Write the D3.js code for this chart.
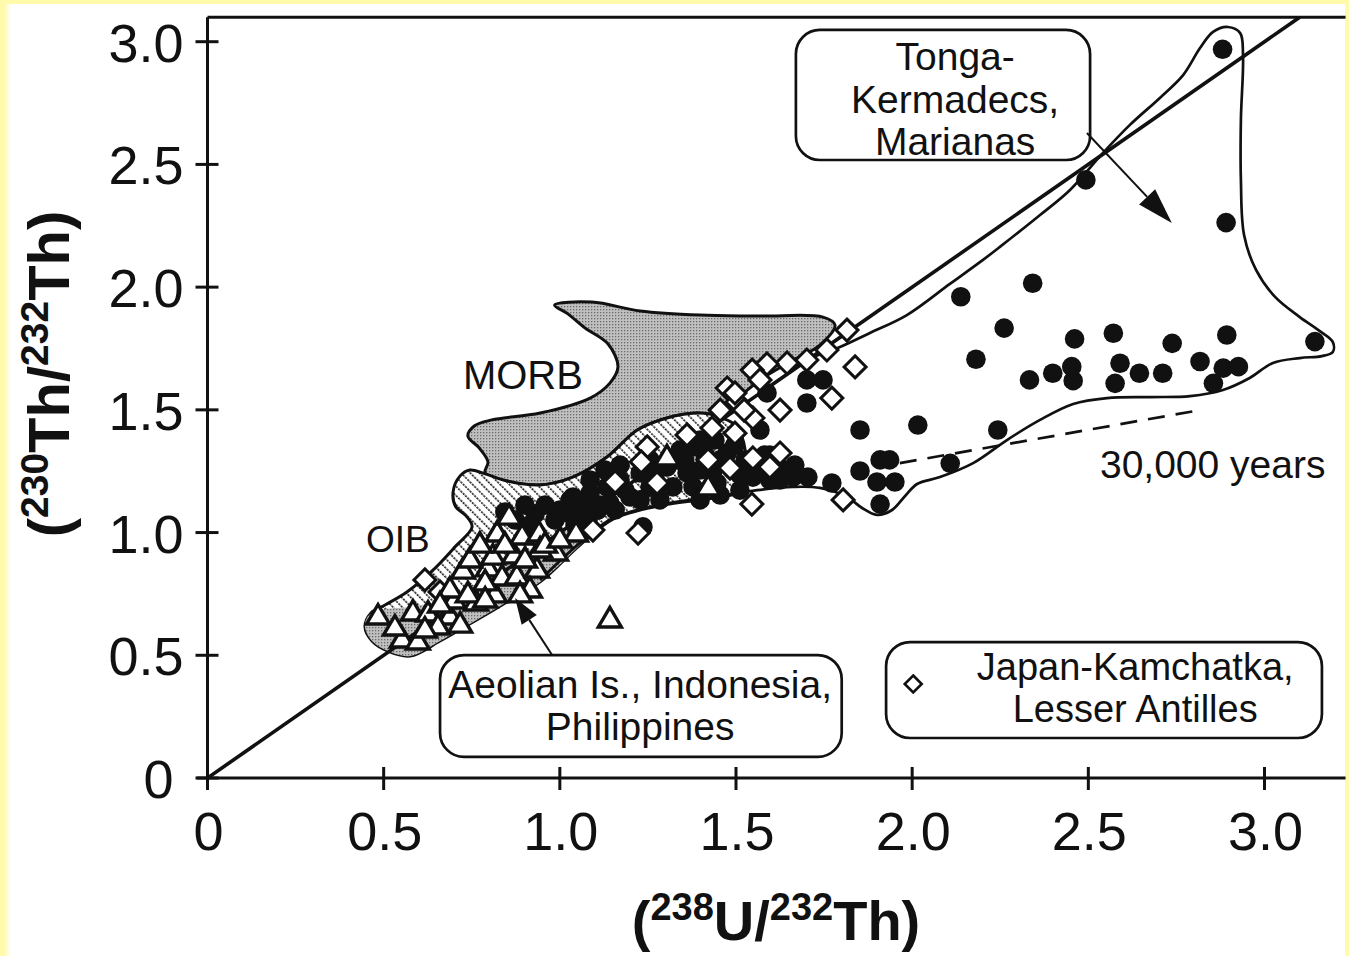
<!DOCTYPE html>
<html>
<head>
<meta charset="utf-8">
<script src="https://cdn.jsdelivr.net/npm/d3@7"></script>
<style>
  html, body { margin: 0; padding: 0; background: #fffbab; }
  svg { display: block; }
  text { font-family: "Liberation Sans", Arial, Helvetica, sans-serif; fill: #111; }
</style>
</head>
<body>
<svg id="chart" width="1349" height="956"></svg>
<script>
// ---- Data: activity ratios (238U/232Th, 230Th/232Th) ----

// Tonga-Kermadecs, Marianas (filled circles)
const tongaMarianas = [
  [2.138,1.961],[2.342,2.016],[2.261,1.833],[2.181,1.706],[2.461,1.789],[2.571,1.812],
  [2.738,1.771],[2.893,1.805],[3.143,1.778],[2.333,1.622],[2.399,1.649],[2.453,1.676],
  [2.457,1.619],[2.590,1.690],[2.576,1.608],[2.645,1.649],[2.711,1.649],[2.817,1.697],
  [2.883,1.670],[2.926,1.676],[2.855,1.608],[1.852,1.418],[2.016,1.438],[2.243,1.418],
  [2.108,1.282],[1.909,1.296],[1.936,1.296],[1.852,1.251],[1.900,1.206],[1.951,1.206],
  [1.909,1.116],[2.881,2.969],[2.493,2.437],[2.891,2.263],
  [0.844,1.084],[0.930,1.076],[0.986,1.051],[1.034,1.072],[1.029,1.133],[1.066,1.100],
  [1.086,1.161],[1.134,1.186],[1.142,1.120],[1.171,1.214],[1.199,1.145],[1.228,1.243],
  [1.256,1.186],[1.236,1.023],[1.304,1.267],[1.321,1.186],[1.341,1.336],[1.361,1.243],
  [1.378,1.349],[1.378,1.186],[1.435,1.255],[1.446,1.202],[1.475,1.324],[1.491,1.255],
  [1.548,1.226],[1.568,1.255],[1.568,1.418],[1.588,1.569],[1.625,1.214],[1.662,1.226],
  [1.704,1.226],[1.701,1.622],[1.747,1.622],[1.701,1.528],[1.772,1.202],[1.037,1.145],
  [1.108,1.092],[1.284,1.133],[1.511,1.173],[1.596,1.316],
  [1.000,1.092],[1.043,1.031],[1.080,1.051],[1.114,1.112],[1.157,1.092],[1.185,1.173],
  [1.228,1.133],[1.270,1.235],[1.284,1.182],[1.327,1.296],[1.355,1.288],[1.398,1.255],
  [1.412,1.316],[1.455,1.296],[1.511,1.235],[1.526,1.296],[1.596,1.214],[1.639,1.255],
  [1.440,1.377],[1.398,1.377],[1.497,1.357],[1.582,1.316],[1.667,1.275],[0.958,1.112],
  [0.901,1.112],[0.873,1.051],[0.915,1.031],[1.086,1.214],[1.128,1.255],[1.171,1.275],
  [1.256,1.296],[1.398,1.133],[1.455,1.153]
];

// Japan-Kamchatka, Lesser Antilles (open diamonds)
const japanAntilles = [
  [1.815,1.825],[1.758,1.744],[1.701,1.703],[1.645,1.691],[1.588,1.687],[1.546,1.662],
  [1.475,1.589],[1.838,1.675],[1.772,1.548],[1.625,1.499],[1.548,1.467],[1.455,1.499],
  [1.432,1.426],[1.497,1.405],[1.361,1.398],[1.248,1.349],[1.231,1.288],[1.421,1.296],
  [1.625,1.324],[1.548,1.304],[1.157,1.206],[1.545,1.116],[1.804,1.133],[1.276,1.202],
  [1.094,1.010],[1.222,0.998],[1.568,1.622],[1.503,1.532],[1.483,1.263],[1.596,1.267],
  [0.617,0.807],[0.660,0.758],[1.497,1.569],[1.523,1.499]
];

// Aeolian Is., Indonesia, Philippines (open triangles)
const aeolianIndonesia = [
  [0.484,0.656],[0.552,0.562],[0.597,0.554],[0.583,0.672],[0.626,0.668],[0.688,0.656],
  [0.700,0.721],[0.762,0.713],[0.816,0.746],[0.725,0.843],[0.796,0.852],[0.836,0.815],
  [0.810,0.900],[0.870,0.905],[0.893,0.982],[0.822,0.994],[0.941,0.994],[0.989,0.917],
  [0.856,1.063],[1.046,0.994],[0.788,0.795],[0.878,0.819],[0.935,0.847],[0.654,0.615],
  [0.688,0.766],[1.142,0.644],[1.304,1.304],[1.421,1.182],[0.944,0.929],
  [0.745,0.888],[0.773,0.949],[0.844,0.949],[0.901,0.888],[0.958,0.949],[1.000,0.970],
  [0.915,0.766],[0.739,0.746],[0.660,0.705],[0.717,0.623],[0.617,0.603],[0.532,0.611],
  [0.887,0.746],[0.788,0.725]
];

// MORB field outline
const morbField = [
  [0.985,1.927],[1.091,1.939],[1.228,1.903],[1.398,1.886],[1.568,1.882],[1.747,1.878],
  [1.781,1.846],[1.738,1.764],[1.653,1.695],[1.568,1.622],[1.497,1.540],[1.426,1.483],
  [1.389,1.487],[1.304,1.467],[1.220,1.418],[1.134,1.308],[1.037,1.226],[0.944,1.194],
  [0.850,1.210],[0.788,1.243],[0.796,1.288],[0.771,1.345],[0.739,1.393],[0.757,1.434],
  [0.807,1.459],[0.944,1.487],[1.086,1.548],[1.142,1.609],[1.165,1.675],[1.137,1.768],
  [1.071,1.834],[1.023,1.891]
];

// OIB field outline
const oibField = [
  [1.460,1.467],[1.426,1.483],[1.389,1.487],[1.304,1.467],[1.220,1.418],[1.134,1.308],
  [1.037,1.226],[0.944,1.194],[0.850,1.210],[0.788,1.239],[0.745,1.255],[0.717,1.231],
  [0.697,1.165],[0.705,1.104],[0.734,1.068],[0.751,1.023],[0.702,0.941],[0.640,0.847],
  [0.566,0.758],[0.504,0.705],[0.464,0.672],[0.447,0.615],[0.467,0.558],[0.512,0.517],
  [0.575,0.497],[0.660,0.558],[0.754,0.636],[0.850,0.717],[0.944,0.799],[1.057,0.949],
  [1.151,1.055],[1.293,1.112],[1.435,1.141],[1.511,1.173],[1.526,1.336],[1.497,1.438]
];

// Stippled low-ratio part of the OIB field
const oibLow = [
  [0.447,0.615],[0.467,0.558],[0.512,0.517],[0.575,0.497],[0.660,0.558],[0.754,0.636],
  [0.850,0.717],[0.944,0.799],[1.057,0.949],[1.114,1.031],[1.029,1.010],[0.915,0.929],
  [0.802,0.827],[0.688,0.733],[0.575,0.697],[0.490,0.685],[0.456,0.660]
];

// Envelope around the arc data
const arcEnvelope = [
  [1.724,1.719],[1.795,1.756],[1.880,1.813],[1.985,1.886],[2.107,2.013],[2.201,2.111],
  [2.249,2.164],[2.363,2.294],[2.448,2.396],[2.541,2.546],[2.618,2.661],[2.703,2.771],
  [2.769,2.864],[2.817,2.974],[2.854,3.040],[2.896,3.060],[2.931,3.035],[2.939,2.946],
  [2.933,2.681],[2.933,2.437],[2.942,2.212],[2.976,2.070],[3.030,1.960],[3.100,1.878],
  [3.157,1.821],[3.194,1.776],[3.194,1.736],[3.163,1.719],[3.100,1.711],[3.024,1.691],
  [2.958,1.630],[2.882,1.581],[2.789,1.556],[2.675,1.552],[2.553,1.548],[2.457,1.524],
  [2.363,1.459],[2.269,1.377],[2.173,1.283],[2.079,1.226],[2.014,1.198],[1.980,1.149],
  [1.943,1.092],[1.900,1.072],[1.858,1.100],[1.815,1.145],[1.738,1.182],[1.662,1.186],
  [1.560,1.173],[1.435,1.145],[1.293,1.116],[1.151,1.059],[1.057,0.958],[0.944,0.807]
];

// 30,000-year reference line
const isochron30ka = [[1.965,1.283],[2.817,1.499]];

// Equiline
const equiline = [[0,0],[3.1,3.1]];

// Axis ticks
const xTicks = [0, 0.5, 1.0, 1.5, 2.0, 2.5, 3.0];
const xTickLabels = ["0", "0.5", "1.0", "1.5", "2.0", "2.5", "3.0"];
const yTicks = [0, 0.5, 1.0, 1.5, 2.0, 2.5, 3.0];
const yTickLabels = ["0", "0.5", "1.0", "1.5", "2.0", "2.5", "3.0"];

// ---- Scales ----
const x = d3.scaleLinear().domain([0, 3]).range([207.5, 1264.5]);
const y = d3.scaleLinear().domain([0, 3]).range([778, 41.7]);
const xMax = 3.23, yMax = 3.1;

const svg = d3.select("#chart");
const defs = svg.append("defs");

// page: pale yellow margin around a white sheet
const fade = defs.append("linearGradient").attr("id", "edgeFade");
fade.append("stop").attr("offset", "0").attr("stop-color", "#fffbab");
fade.append("stop").attr("offset", "1").attr("stop-color", "#ffffff");
svg.append("rect").attr("width", 1349).attr("height", 956).attr("fill", "#fffbab");
svg.append("rect").attr("x", 5).attr("y", 4).attr("width", 1340).attr("height", 952).attr("fill", "#fff");
svg.append("rect").attr("x", 4).attr("y", 4).attr("width", 7).attr("height", 952).attr("fill", "url(#edgeFade)");

// fill patterns
const stip = defs.append("pattern").attr("id", "stipple")
  .attr("patternUnits", "userSpaceOnUse").attr("width", 3).attr("height", 3);
stip.append("rect").attr("width", 3).attr("height", 3).attr("fill", "#c0c0c0");
stip.append("rect").attr("width", 1.3).attr("height", 1.3).attr("fill", "#6a6a6a");

const hatch = defs.append("pattern").attr("id", "hatch")
  .attr("patternUnits", "userSpaceOnUse").attr("width", 6.5).attr("height", 6.5)
  .attr("patternTransform", "rotate(45)");
hatch.append("rect").attr("width", 6.5).attr("height", 6.5).attr("fill", "#fff");
hatch.append("line").attr("x1", 0).attr("y1", 2).attr("x2", 6.5).attr("y2", 2)
  .attr("stroke", "#222").attr("stroke-width", 1.8).attr("stroke-dasharray", "2.2 1.05");

const clip = defs.append("clipPath").attr("id", "plotClip");
clip.append("rect").attr("x", x(0)).attr("y", y(yMax))
  .attr("width", x(xMax) - x(0)).attr("height", y(0) - y(yMax));

const closedCurve = d3.line().x(d => x(d[0])).y(d => y(d[1])).curve(d3.curveCatmullRomClosed.alpha(0.5));
const openCurve = d3.line().x(d => x(d[0])).y(d => y(d[1])).curve(d3.curveCatmullRom.alpha(0.5));
const straight = d3.line().x(d => x(d[0])).y(d => y(d[1]));

const plot = svg.append("g").attr("clip-path", "url(#plotClip)");

// fields
plot.append("path").attr("d", closedCurve(morbField))
  .attr("fill", "url(#stipple)").attr("stroke", "#111").attr("stroke-width", 3);
plot.append("path").attr("d", closedCurve(oibField))
  .attr("fill", "url(#hatch)").attr("stroke", "#111").attr("stroke-width", 3);
plot.append("path").attr("d", closedCurve(oibLow))
  .attr("fill", "url(#stipple)").attr("stroke", "none");

// envelope, equiline, 30 ka line
plot.append("path").attr("d", openCurve(arcEnvelope))
  .attr("fill", "none").attr("stroke", "#111").attr("stroke-width", 2.7);
plot.append("path").attr("d", straight(equiline))
  .attr("fill", "none").attr("stroke", "#111").attr("stroke-width", 3.6);
plot.append("path").attr("d", straight(isochron30ka))
  .attr("fill", "none").attr("stroke", "#111").attr("stroke-width", 2.7)
  .attr("stroke-dasharray", "17 11");

// data symbols
const diamondPath = "M0,-11L11,0L0,11L-11,0Z";
const trianglePath = "M0,-12.5L11.5,7L-11.5,7Z";

plot.append("g").selectAll("circle").data(tongaMarianas).join("circle")
  .attr("cx", d => x(d[0])).attr("cy", d => y(d[1])).attr("r", 9.8).attr("fill", "#111");
plot.append("g").selectAll("path").data(japanAntilles).join("path")
  .attr("d", diamondPath).attr("transform", d => `translate(${x(d[0])},${y(d[1])})`)
  .attr("fill", "#fff").attr("stroke", "#111").attr("stroke-width", 3);
plot.append("g").selectAll("path").data(aeolianIndonesia).join("path")
  .attr("d", trianglePath).attr("transform", d => `translate(${x(d[0])},${y(d[1])})`)
  .attr("fill", "#fff").attr("stroke", "#111").attr("stroke-width", 3.4);

// ---- Axes and frame ----
const axes = svg.append("g").attr("stroke", "#111").attr("stroke-width", 3);
axes.append("line").attr("x1", x(-0.03)).attr("x2", x(xMax)).attr("y1", y(0)).attr("y2", y(0));
axes.append("line").attr("x1", x(0)).attr("x2", x(0)).attr("y1", y(yMax)).attr("y2", y(0) + 12);
axes.append("line").attr("x1", x(0)).attr("x2", x(xMax)).attr("y1", y(yMax)).attr("y2", y(yMax));
axes.selectAll(".xt").data(xTicks).join("line").attr("class", "xt")
  .attr("x1", d => x(d)).attr("x2", d => x(d)).attr("y1", y(0) - 11).attr("y2", y(0) + 12);
axes.selectAll(".yt").data(yTicks).join("line").attr("class", "yt")
  .attr("y1", d => y(d)).attr("y2", d => y(d)).attr("x1", x(0) - 12).attr("x2", x(0) + 11);

svg.append("g").selectAll("text").data(xTicks).join("text")
  .attr("x", d => x(d) + 1).attr("y", 850).attr("text-anchor", "middle")
  .style("font-size", "54px").text((d, i) => xTickLabels[i]);
svg.append("g").selectAll("text").data(yTicks).join("text")
  .attr("x", d => d === 0 ? x(0) - 34 : x(0) - 24).attr("y", d => y(d) + 20)
  .attr("text-anchor", "end").style("font-size", "54px").text((d, i) => yTickLabels[i]);

// axis titles
const xt = svg.append("text").attr("x", 776).attr("y", 940).attr("text-anchor", "middle")
  .style("font-size", "56px").style("font-weight", "bold");
xt.append("tspan").text("(");
xt.append("tspan").attr("dy", -20).style("font-size", "38px").text("238");
xt.append("tspan").attr("dy", 20).text("U/");
xt.append("tspan").attr("dy", -20).style("font-size", "38px").text("232");
xt.append("tspan").attr("dy", 20).text("Th)");

const yt = svg.append("text").attr("transform", "translate(69,374) rotate(-90)")
  .attr("text-anchor", "middle").style("font-size", "58px").style("font-weight", "bold");
yt.append("tspan").text("(");
yt.append("tspan").attr("dy", -21).style("font-size", "39px").text("230");
yt.append("tspan").attr("dy", 21).text("Th/");
yt.append("tspan").attr("dy", -21).style("font-size", "39px").text("232");
yt.append("tspan").attr("dy", 21).text("Th)");

// ---- Annotations ----
const ann = svg.append("g");
ann.append("text").attr("x", x(0.725)).attr("y", y(1.585)).style("font-size", "40px").text("MORB");
ann.append("text").attr("x", x(0.450)).attr("y", y(0.921)).style("font-size", "37px").text("OIB");
ann.append("text").attr("x", x(2.533)).attr("y", y(1.222)).style("font-size", "39px").text("30,000 years");

function roundBox(x0, x1, yTop, yBot) {
  ann.append("rect").attr("x", x(x0)).attr("y", y(yTop))
    .attr("width", x(x1) - x(x0)).attr("height", y(yBot) - y(yTop))
    .attr("rx", 24).attr("ry", 24).attr("fill", "#fff")
    .attr("stroke", "#111").attr("stroke-width", 2.7);
}
function lines(cx, baselines, texts, size) {
  texts.forEach((t, i) => ann.append("text").attr("x", x(cx)).attr("y", y(baselines[i]))
    .attr("text-anchor", "middle").style("font-size", size + "px").text(t));
}
function arrow(from, to, len, half) {
  const x0 = x(from[0]), y0 = y(from[1]), x1 = x(to[0]), y1 = y(to[1]);
  const a = Math.atan2(y1 - y0, x1 - x0);
  const bx = x1 - len * Math.cos(a), by = y1 - len * Math.sin(a);
  ann.append("line").attr("x1", x0).attr("y1", y0).attr("x2", bx).attr("y2", by)
    .attr("stroke", "#111").attr("stroke-width", 2);
  ann.append("path").attr("d",
    `M${x1},${y1}L${bx + half * Math.sin(a)},${by - half * Math.cos(a)}L${bx - half * Math.sin(a)},${by + half * Math.cos(a)}Z`)
    .attr("fill", "#111");
}

// Tonga-Kermadecs, Marianas
roundBox(1.670, 2.505, 3.048, 2.518);
lines(2.122, [2.885, 2.710, 2.538], ["Tonga-", "Kermadecs,", "Marianas"], 39);
arrow([2.496, 2.628], [2.737, 2.261], 36, 11);

// Aeolian Is., Indonesia, Philippines
roundBox(0.660, 1.800, 0.501, 0.086);
lines(1.228, [0.326, 0.155], ["Aeolian Is., Indonesia,", "Philippines"], 39);
arrow([0.978, 0.501], [0.873, 0.733], 26, 9);

// Japan-Kamchatka, Lesser Antilles legend
roundBox(1.926, 3.163, 0.554, 0.163);
lines(2.633, [0.399, 0.228], ["Japan-Kamchatka,", "Lesser Antilles"], 38);
ann.append("path").attr("d", "M0,-8.5L8.5,0L0,8.5L-8.5,0Z")
  .attr("transform", `translate(${x(2.003)},${y(0.383)})`)
  .attr("fill", "#fff").attr("stroke", "#111").attr("stroke-width", 2.6);
</script>
</body>
</html>
